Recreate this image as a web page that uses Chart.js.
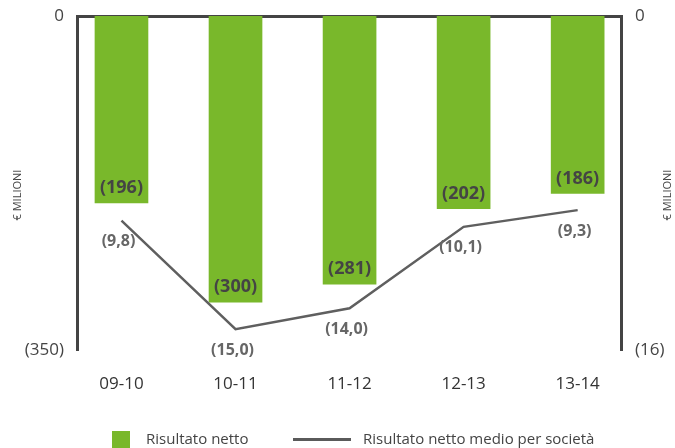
<!DOCTYPE html>
<html>
<head>
<meta charset="utf-8">
<script src="https://cdn.jsdelivr.net/npm/chart.js@4"></script>
<style>
    body { margin: 0; background: #fff; font-family: "Open Sans", sans-serif; }
    #wrap { position: relative; width: 675px; height: 448px; overflow: hidden; }
    .leg { position: absolute; top: 428px; font-size: 15px; color: #444; line-height: 20px; white-space: nowrap; }
    .box { position: absolute; top: 431px; left: 112px; width: 18px; height: 18px; background: #79b82b; }
    .line { position: absolute; top: 438px; left: 293px; width: 58px; height: 3px; background: #5a5a5a; }
</style>
</head>
<body>
<div id="wrap">
    <canvas id="chart" width="675" height="448"></canvas>
    <div class="box"></div>
    <div class="leg" style="left:146px">Risultato netto</div>
    <div class="line"></div>
    <div class="leg" style="left:363px">Risultato netto medio per società</div>
</div>
<script>
    // Dati (perdite, in € milioni)
    const periodi = ['09-10', '10-11', '11-12', '12-13', '13-14'];
    const risultatoNetto = [196, 300, 281, 202, 186];
    const risultatoMedio = [9.8, 15.0, 14.0, 10.1, 9.3];
    const tickSinistra = [0, -350];
    const tickDestra = [0, -16];

    const verde = '#79b82b';
    const grigio = '#444';

    const fmt = (v, dec) => {
        if (v === 0) return '0';
        const s = Math.abs(v).toFixed(dec).replace('.', ',');
        return '(' + s + ')';
    };

    // niente sporgenze delle etichette: l'area del grafico resta fissa
    const noPad = s => { s.paddingTop = 0; s.paddingBottom = 0; s.paddingLeft = 0; s.paddingRight = 0; };

    // etichette valori su barre e linea, titoli assi
    const labelsPlugin = {
        id: 'labels',
        afterDatasetsDraw(chart) {
            const ctx = chart.ctx;
            ctx.save();
            ctx.textAlign = 'center';
            ctx.textBaseline = 'middle';

            ctx.font = 'bold 18px "Open Sans"';
            ctx.fillStyle = grigio;
            chart.getDatasetMeta(0).data.forEach((bar, i) => {
                ctx.fillText(fmt(-risultatoNetto[i], 0), bar.x, bar.y - 15);
            });

            ctx.font = 'bold 16px "Open Sans"';
            ctx.fillStyle = '#666';
            chart.getDatasetMeta(1).data.forEach((pt, i) => {
                ctx.fillText(fmt(-risultatoMedio[i], 1), pt.x - 3, pt.y + 21);
            });

            // titoli assi
            const a = chart.chartArea;
            const midY = (a.top + a.bottom) / 2 + 12;
            ctx.font = '11px "Open Sans"';
            ctx.fillStyle = grigio;
            [18, 668].forEach(x => {
                ctx.save();
                ctx.translate(x, midY);
                ctx.rotate(-Math.PI / 2);
                ctx.fillText('€ MILIONI', 0, 0);
                ctx.restore();
            });
            ctx.restore();
        }
    };

    const ctx = document.getElementById('chart').getContext('2d');
    const chart = new Chart(ctx, {
        data: {
            datasets: [{
                type: 'bar',
                data: risultatoNetto.map((v, i) => ({ x: i, y: -v })),
                backgroundColor: verde,
                barThickness: 53,
                yAxisID: 'y',
                order: 2
            }, {
                type: 'line',
                data: risultatoMedio.map((v, i) => ({ x: i, y: -v })),
                borderColor: '#5f5f5f',
                borderWidth: 2.5,
                pointRadius: 0,
                tension: 0,
                yAxisID: 'y2',
                order: 1
            }]
        },
        options: {
            responsive: false,
            animation: false,
            layout: { padding: { top: 16, left: 0, right: 0, bottom: 0 } },
            plugins: {
                legend: { display: false },
                tooltip: { enabled: false }
            },
            scales: {
                x: {
                    type: 'linear',
                    position: 'bottom',
                    offset: false,
                    min: -0.39,
                    max: 4.38,
                    afterBuildTicks: s => { s.ticks = periodi.map((p, i) => ({ value: i })); },
                    afterFit: s => { s.height = 98; noPad(s); },
                    grid: { display: false, drawTicks: false },
                    border: { display: false },
                    ticks: {
                        padding: 24,
                        color: '#333',
                        font: { size: 17, family: 'Open Sans' },
                        callback: v => periodi[v] || ''
                    }
                },
                xTop: {
                    type: 'linear',
                    position: 'top',
                    offset: false,
                    min: -0.39,
                    max: 4.38,
                    afterFit: s => { s.height = 0; noPad(s); },
                    grid: { display: false, drawTicks: false },
                    border: { display: true, color: grigio, width: 3 },
                    ticks: { display: false }
                },
                y: {
                    position: 'left',
                    min: -350,
                    max: 0,
                    afterBuildTicks: s => { s.ticks = tickSinistra.map(v => ({ value: v })); },
                    afterFit: s => { s.width = 77; noPad(s); },
                    grid: { display: false, drawTicks: false },
                    border: { display: true, color: grigio, width: 3 },
                    ticks: {
                        padding: 13,
                        color: grigio,
                        font: { size: 17, family: 'Open Sans' },
                        callback: v => fmt(v, 0)
                    }
                },
                y2: {
                    position: 'right',
                    min: -16,
                    max: 0,
                    afterBuildTicks: s => { s.ticks = tickDestra.map(v => ({ value: v })); },
                    afterFit: s => { s.width = 54; noPad(s); },
                    grid: { display: false, drawTicks: false },
                    border: { display: true, color: grigio, width: 3 },
                    ticks: {
                        padding: 14,
                        color: grigio,
                        font: { size: 17, family: 'Open Sans' },
                        callback: v => fmt(v, 0)
                    }
                }
            }
        },
        plugins: [labelsPlugin]
    });
</script>
</body>
</html>
